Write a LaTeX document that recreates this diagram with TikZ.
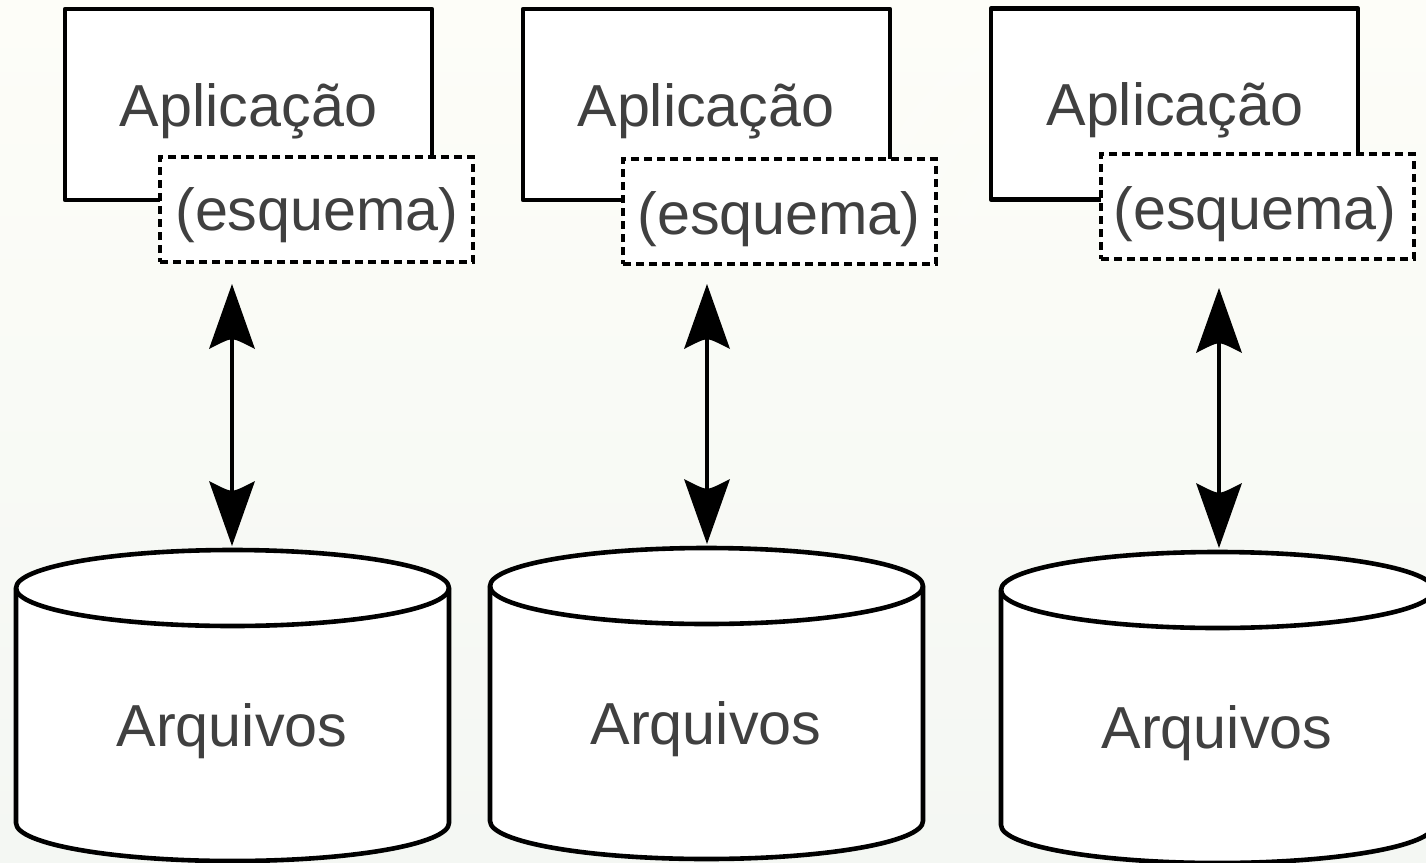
\documentclass[tikz,border=0pt]{standalone}
\usepackage{fontspec}
\setmainfont{Liberation Sans}
\usetikzlibrary{arrows.meta}
\definecolor{ink}{HTML}{404040}
\definecolor{bgtop}{HTML}{FDFDF8}
\definecolor{bgbot}{HTML}{F4F7F3}
\pgfdeclarearrow{
  name=CurvedHead,
  setup code={%
    \pgfarrowssettipend{0pt}%
    \pgfarrowssetlineend{-50pt}%
    \pgfarrowssetvisualbackend{-65pt}%
    \pgfarrowssetbackend{-65pt}%
    \pgfarrowssavethe{\pgfarrowlength}%
  },
  drawing code={%
    \pgfsetdash{}{0pt}%
    \pgfpathmoveto{\pgfpoint{0pt}{0pt}}%
    \pgfpathlineto{\pgfpoint{-65pt}{23pt}}%
    \pgfpathcurveto{\pgfpoint{-60pt}{13pt}}{\pgfpoint{-56pt}{6pt}}{\pgfpoint{-55pt}{0pt}}%
    \pgfpathcurveto{\pgfpoint{-56pt}{-6pt}}{\pgfpoint{-60pt}{-13pt}}{\pgfpoint{-65pt}{-23pt}}%
    \pgfpathclose
    \pgfusepathqfill
  }
}
\tikzset{
  x=1pt,y=-1pt,
  appbox/.style={draw=black,fill=white,line width=4.6pt,minimum width=367pt,minimum height=191pt,inner sep=0pt,outer sep=0pt,anchor=north west,line join=round},
  schemabox/.style={draw=black,fill=white,line width=4.6pt,dash pattern=on 8pt off 5pt,minimum width=313pt,minimum height=105pt,inner sep=0pt,outer sep=0pt,anchor=north west},
  txt/.style={text=ink,font=\fontsize{59.3}{59.3}\selectfont,anchor=base,inner sep=0pt},
  dbline/.style={draw=black,fill=white,line width=4.6pt,line join=round},
  link/.style={line width=4.6pt,{CurvedHead}-{CurvedHead}},
  swirl/.style={draw=white,draw opacity=.2,line width=16pt,line cap=round},
}
% #1 id; #2,#3 box corner; #4 Aplicacao x,y; #5,#6 schema corner; #7 esquema x,y; #8 arrow x; #9 arrow top y
\newcommand{\appcol}[9]{%
  \node[appbox] (app#1) at (#2,#3) {};
  \node[txt] (apptxt#1) at (#4) {Aplicação};
  \node[schemabox] (sch#1) at (#5,#6) {};
  \node[txt] (schtxt#1) at (#7) {(esquema)};
  \coordinate (up#1) at (#8,#9);
}
% #1 id; #2 left x; #3 top y; #4 text x,y; #5 arrow x, tip y
\newcommand{\dbcol}[5]{%
  \path[dbline] (#2,#3+38) arc[start angle=180,end angle=360,x radius=216.5,y radius=38]
     -- (#2+433,#3+273) arc[start angle=0,end angle=180,x radius=216.5,y radius=38] -- cycle;
  \path[dbline,fill=none] (#2,#3+38) arc[start angle=180,end angle=0,x radius=216.5,y radius=38];
  \node[txt] (dbtxt#1) at (#4) {Arquivos};
  \coordinate (down#1) at (#5);
}
\begin{document}
\begin{tikzpicture}
\useasboundingbox (0,0) rectangle (1426,862);
\clip (0,0) rectangle (1426,862);
\shade[top color=bgtop,bottom color=bgbot] (0,0) rectangle (1426,862);
% faint background swirl
\foreach \r in {170,215,260}{
  \path[swirl] (1125,275) ++(200:\r) arc[start angle=200,end angle=340,radius=\r];
}
\appcol{1}{65}{9}{248.5,126}{160}{157}{317,230}{232}{284}
\appcol{2}{523}{9}{706,126}{623}{159}{779,234}{707}{284}
\appcol{3}{991}{8.5}{1175,125}{1101}{154}{1255,229}{1219}{288}
\dbcol{1}{16}{550}{232,746}{232,546}
\dbcol{2}{490}{548}{706,744}{707,544}
\dbcol{3}{1001}{552}{1217,748}{1219,548}
\draw[link] (up1) -- (down1);
\draw[link] (up2) -- (down2);
\draw[link] (up3) -- (down3);
\end{tikzpicture}
\end{document}
